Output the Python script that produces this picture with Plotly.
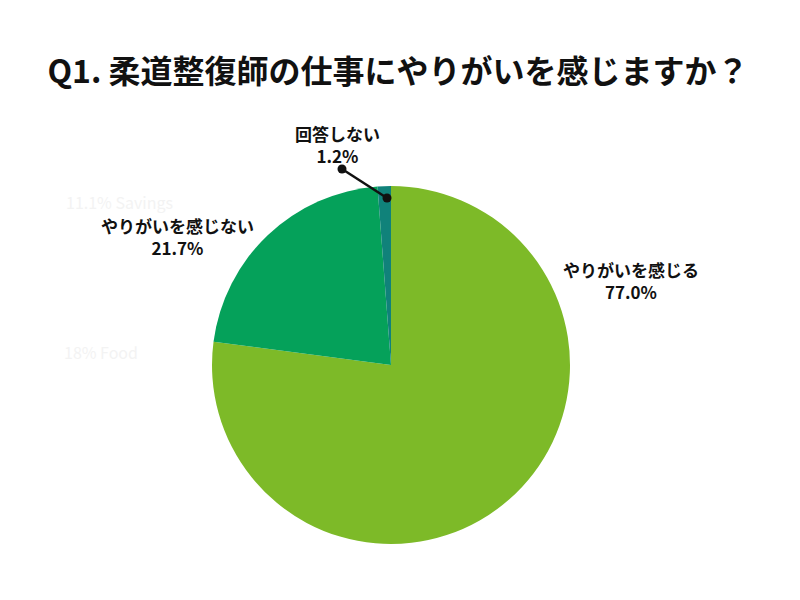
"""Q1 pie chart: do judo therapists find their work rewarding."""

import plotly.graph_objects as go

labels = ["やりがいを感じる", "やりがいを感じない", "回答しない"]
values = [77.0, 21.7, 1.2]
colors = ["#7dba28", "#05a15a", "#10827a"]

W, H = 800, 600
OFF = 8  # page body margin of the html page
FONT = "Noto Sans CJK JP"


def px(x, y):
    """Screen pixel position -> paper coords (margins are zero)."""
    return (x - OFF) / W, 1 - (y - OFF) / H


fig = go.Figure()

d0 = px(212, 544)
d1 = px(570, 186)
fig.add_trace(
    go.Pie(
        labels=labels,
        values=values,
        marker={"colors": colors, "line": {"width": 0}},
        sort=False,
        direction="clockwise",
        rotation=0,
        textinfo="none",
        hoverinfo="label+percent",
        domain={"x": [d0[0], d1[0]], "y": [d0[1], d1[1]]},
        showlegend=False,
    ),
)

# slice labels
label_pos = [(631, 280), (177, 237), (337, 145)]
for lab, val, (lx, ly) in zip(labels, values, label_pos):
    x, y = px(lx, ly)
    fig.add_annotation(
        x=x, y=y, xref="paper", yref="paper",
        xanchor="center", yanchor="middle",
        text=f"<b>{lab}<br>{val:.1f}%</b>",
        showarrow=False,
        font={"family": FONT, "size": 17, "color": "#111111"},
        align="center",
    )

# leader line for the small slice
x0, y0 = px(342, 169)
x1, y1 = px(387, 198)
fig.add_shape(type="line", xref="paper", yref="paper", x0=x0, y0=y0, x1=x1, y1=y1,
              line={"color": "#111111", "width": 2.5})
for cx, cy in [(x0, y0), (x1, y1)]:
    r = 4.5
    fig.add_shape(type="circle", xref="paper", yref="paper",
                  x0=cx - r / W, x1=cx + r / W, y0=cy - r / H, y1=cy + r / H,
                  fillcolor="#111111", line={"width": 0})

# faint leftover text in the original image
for txt, (gx, gy) in [("11.1% Savings", (119, 202)), ("18% Food", (101, 352))]:
    x, y = px(gx, gy)
    fig.add_annotation(
        x=x, y=y, xref="paper", yref="paper", text=txt, showarrow=False,
        xanchor="center", yanchor="middle",
        font={"family": FONT, "size": 16, "color": "#f3f3f3"},
    )

fig.update_layout(
    width=W,
    height=H,
    margin={"l": 0, "r": 0, "t": 0, "b": 0},
    paper_bgcolor="white",
    plot_bgcolor="white",
    title={
        "text": "<b>Q1. 柔道整復師の仕事にやりがいを感じますか？</b>",
        "x": px(398, 0)[0],
        "xanchor": "center",
        "y": px(0, 72)[1],
        "yanchor": "middle",
        "font": {"family": FONT, "size": 32, "color": "#111111"},
    },
)

fig.write_html("out.html")
